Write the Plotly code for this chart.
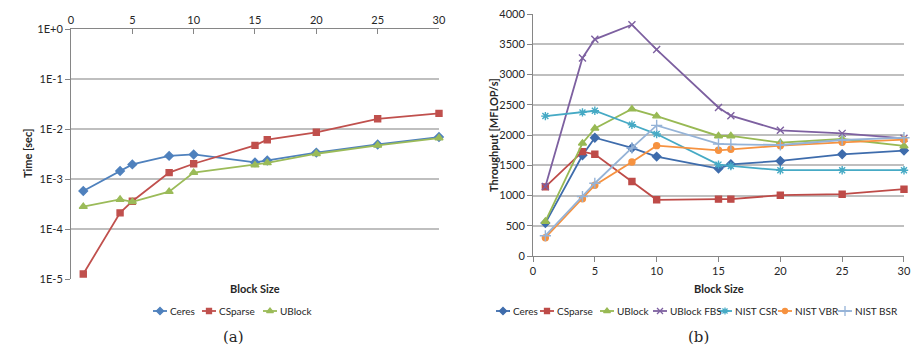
import plotly.graph_objects as go

W, H = 921, 348
OFF = 8  # the page body adds an 8px margin; positions below are in screen pixels

# ---------------- data ----------------
block_size = [1, 4, 5, 8, 10, 15, 16, 20, 25, 30]

# (a) Time [sec]
time_ceres = [5.75e-4, 1.45e-3, 1.96e-3, 2.9e-3, 3.1e-3, 2.15e-3, 2.35e-3, 3.37e-3, 4.9e-3, 6.9e-3]
time_csparse = [1.26e-5, 2.1e-4, 3.6e-4, 1.34e-3, 2.02e-3, 4.7e-3, 6.1e-3, 8.6e-3, 1.6e-2, 2.05e-2]
time_ublock = [2.8e-4, 3.9e-4, 3.5e-4, 5.6e-4, 1.34e-3, 1.9e-3, 2.1e-3, 3.2e-3, 4.7e-3, 6.6e-3]

# (b) Throughput [MFLOP/s]
thr_ceres = [544, 1665, 1956, 1786, 1643, 1445, 1516, 1571, 1681, 1742]
thr_csparse = [1143, 1725, 1681, 1231, 929, 940, 940, 1005, 1022, 1104]
thr_ublock = [571, 1863, 2110, 2429, 2313, 1984, 1984, 1874, 1934, 1819]
thr_ublock_fbs = [1148, 3275, 3582, 3824, 3412, 2456, 2319, 2077, 2027, 1945]
thr_nist_csr = [2313, 2374, 2401, 2170, 2016, 1511, 1489, 1418, 1418, 1418]
thr_nist_vbr = [302, 945, 1170, 1555, 1824, 1747, 1764, 1824, 1879, 1923]
thr_nist_bsr = [335, 984, 1203, 1786, 2159, 1852, 1846, 1835, 1918, 1956]

time_ticks = [1e-5, 1e-4, 1e-3, 1e-2, 1e-1, 1]
time_tick_text = ["1E-5", "1E-4", "1E-3", "1E-2", "1E-1", "1E+0"]
thr_ticks = [0, 500, 1000, 1500, 2000, 2500, 3000, 3500, 4000]
x_ticks = [0, 5, 10, 15, 20, 25, 30]

# ---------------- styles ----------------
FONT = "Lato"
TXT = "#262626"
GRID = "#BFBFBF"
AXIS = "#868686"

left_series = [
    ("Ceres", time_ceres, "#4F81BD", "diamond", 6.5),
    ("CSparse", time_csparse, "#C0504D", "square", 6),
    ("UBlock", time_ublock, "#9BBB59", "triangle-up", 7),
]
right_series = [
    ("Ceres", thr_ceres, "#3E6CAC", "diamond", 6.5),
    ("CSparse", thr_csparse, "#BE4B48", "square", 6),
    ("UBlock", thr_ublock, "#98B954", "triangle-up", 7),
    ("UBlock FBS", thr_ublock_fbs, "#7D60A0", "x-thin-open", 7),
    ("NIST CSR", thr_nist_csr, "#46AAC5", "asterisk-open", 7),
    ("NIST VBR", thr_nist_vbr, "#F69240", "circle", 6),
    ("NIST BSR", thr_nist_bsr, "#95B3D7", "cross-thin-open", 8),
]

fig = go.Figure()

def add_series(series, xa, ya):
    for name, ys, col, sym, sz in series:
        fig.add_trace(go.Scatter(
            x=block_size, y=ys, mode="lines+markers", name=name,
            xaxis=xa, yaxis=ya, showlegend=False, cliponaxis=False,
            line=dict(color=col, width=1.8),
            marker=dict(symbol=sym, size=sz, color=col,
                        line=dict(color=col, width=1.4)),
        ))

add_series(left_series, "x", "y")
add_series(right_series, "x2", "y2")

# -------- custom compact legends on a screen-pixel overlay axis --------
left_legend_x = [153, 202, 263]
right_legend_x = [496, 540, 600, 653, 718, 778, 838]
legend_y = 311
annotations = []

def add_legend(series, xs):
    for (name, ys, col, sym, sz), x0 in zip(series, xs):
        fig.add_trace(go.Scatter(
            x=[x0, x0 + 14], y=[legend_y, legend_y], mode="lines",
            xaxis="x3", yaxis="y3", showlegend=False, hoverinfo="skip",
            line=dict(color=col, width=1.8)))
        fig.add_trace(go.Scatter(
            x=[x0 + 7], y=[legend_y], mode="markers",
            xaxis="x3", yaxis="y3", showlegend=False, hoverinfo="skip",
            marker=dict(symbol=sym, size=sz - 1, color=col,
                        line=dict(color=col, width=1.3))))
        annotations.append(dict(
            x=x0 + 14.5, y=legend_y, xref="x3", yref="y3", text=name,
            showarrow=False, xanchor="left", yanchor="middle",
            font=dict(family=FONT, size=10, color=TXT)))

add_legend(left_series, left_legend_x)
add_legend(right_series, right_legend_x)

def px_x(p):
    return (p - OFF) / W

def px_y(p):
    return 1 - (p - OFF) / H

def label(x, y, text, size=11, family=FONT, angle=0):
    return dict(x=px_x(x), y=px_y(y), xref="paper", yref="paper", text=text,
                textangle=angle, showarrow=False, xanchor="center", yanchor="middle",
                font=dict(family=family, size=size, color=TXT))

# axis titles and captions
annotations += [
    label(255, 288, "<b>Block Size</b>"),
    label(719, 288, "<b>Block Size</b>"),
    label(27, 154, "<b>Time [sec]</b>", angle=-90),
    label(493, 135, "<b>Throughput [MFLOP/s]</b>", angle=-90),
    label(233, 337, "(a)", size=15, family="DejaVu Serif"),
    label(698, 337, "(b)", size=15, family="DejaVu Serif"),
]

tickfont = dict(family=FONT, size=11, color=TXT)
common = dict(automargin=False, ticklabeloverflow="allow", zeroline=False,
              showline=True, linecolor=AXIS, linewidth=1,
              ticklen=5, tickcolor=AXIS, tickfont=tickfont)

fig.update_layout(
    width=W, height=H,
    margin=dict(l=0, r=0, t=0, b=0, pad=0, autoexpand=False),
    paper_bgcolor="white", plot_bgcolor="rgba(0,0,0,0)",
    font=dict(family=FONT, size=11, color=TXT),
    showlegend=False,
    annotations=annotations,
    xaxis=dict(domain=[px_x(71), px_x(439)], anchor="y", side="top",
               range=[0, 30.001], tickvals=x_ticks, showgrid=False,
               ticks="inside", **common),
    yaxis=dict(domain=[px_y(279), px_y(29)], anchor="x", type="log",
               range=[-5.0001, 0.0001], tickvals=time_ticks, ticktext=time_tick_text,
               showgrid=True, gridcolor=GRID, gridwidth=1.5,
               ticks="outside", **common),
    xaxis2=dict(domain=[px_x(533), px_x(904)], anchor="y2",
                range=[0, 30.001], tickvals=x_ticks, showgrid=False,
                ticks="outside", **common),
    yaxis2=dict(domain=[px_y(256), px_y(14)], anchor="x2",
                range=[0, 4000.5], tickvals=thr_ticks,
                showgrid=True, gridcolor=GRID, gridwidth=1.5,
                ticks="outside", **common),
    xaxis3=dict(domain=[0, 1], anchor="y3", range=[OFF, W + OFF], visible=False,
                fixedrange=True, automargin=False),
    yaxis3=dict(domain=[0, 1], anchor="x3", range=[H + OFF, OFF], visible=False,
                fixedrange=True, automargin=False),
)

fig.write_html("out.html")
